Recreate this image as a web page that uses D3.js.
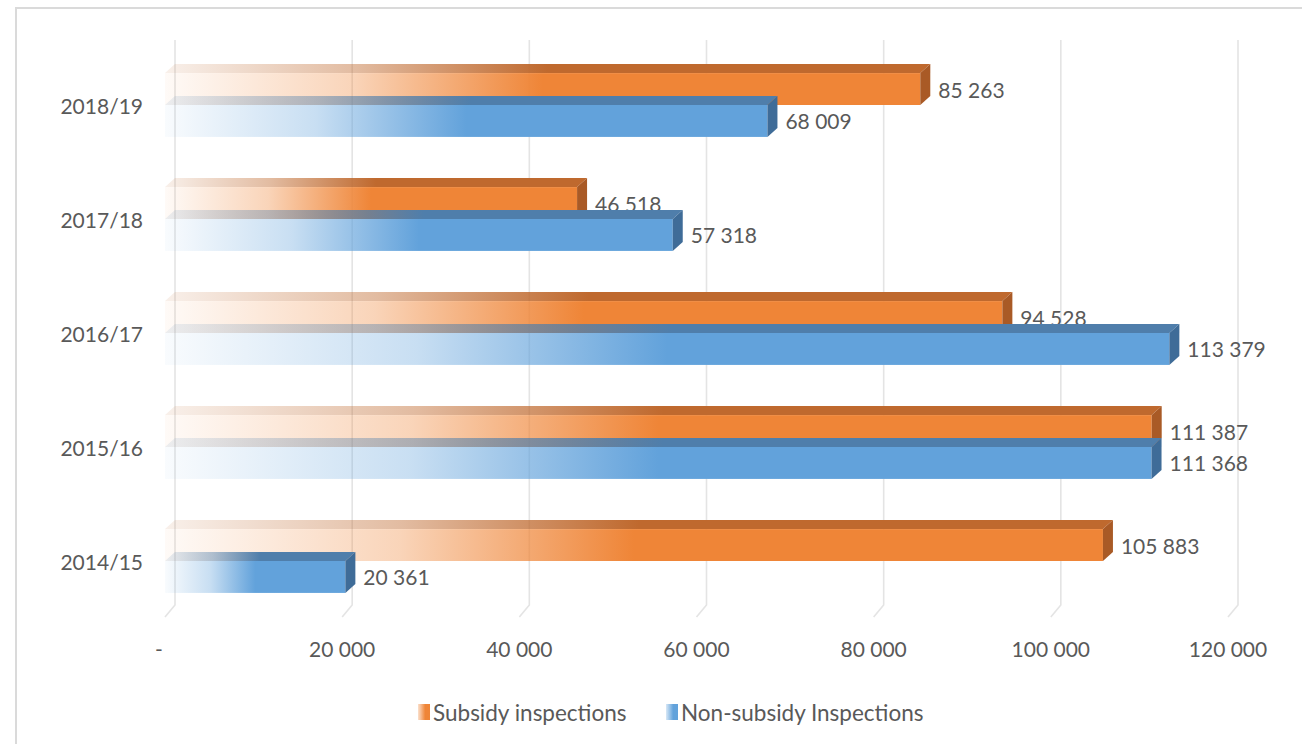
<!DOCTYPE html>
<html>
<head>
<meta charset="utf-8">
<script src="https://cdn.jsdelivr.net/npm/d3@7"></script>
<style>
  html, body { margin: 0; padding: 0; background: #fff; }
  svg { display: block; font-family: Lato, "Open Sans", sans-serif; }
</style>
</head>
<body>
<svg id="chart" width="1302" height="744"></svg>
<script>
// Inspections per financial year
const categories = ["2014/15", "2015/16", "2016/17", "2017/18", "2018/19"];
const subsidyInspections = [105883, 111387, 94528, 46518, 85263];
const nonSubsidyInspections = [20361, 111368, 113379, 57318, 68009];
const seriesNames = ["Subsidy inspections", "Non-subsidy Inspections"];
const tickValues = [0, 20000, 40000, 60000, 80000, 100000, 120000];

const series = [
  { key: "subsidy", name: seriesNames[0], values: subsidyInspections,
    front: "#EF8537", top: "#BF692E", side: "#A95A26" },
  { key: "nonsubsidy", name: seriesNames[1], values: nonSubsidyInspections,
    front: "#62A2DB", top: "#4F7EAB", side: "#3F6C98" }
];

const svg = d3.select("#chart");
const textColor = "#595959";

// 3D depth offset of the bars / back wall
const depthX = 10, depthY = -9;

const x = d3.scaleLinear().domain([0, 120000]).range([165, 1228]);
const y = d3.scaleBand()
  .domain(categories.slice().reverse())
  .range([48, 618])
  .paddingInner(0.44)
  .paddingOuter(0.22);
const ySub = d3.scaleBand()
  .domain(series.map(s => s.key))
  .range([0, y.bandwidth()]);

const locale = d3.formatLocale({ decimal: ".", thousands: " ", grouping: [3], currency: ["", ""] });
const fmt = locale.format(",d");

// Outer frame
svg.append("path")
  .attr("d", "M1302,8 H16 V744")
  .attr("fill", "none")
  .attr("stroke", "#dadada")
  .attr("stroke-width", 2);

// Gradients: bars fade in from the axis
const defs = svg.append("defs");
series.forEach(s => {
  const gf = defs.append("linearGradient").attr("id", "grad-front-" + s.key)
    .attr("x1", 0).attr("x2", 1).attr("y1", 0).attr("y2", 0);
  gf.append("stop").attr("offset", 0).attr("stop-color", s.front).attr("stop-opacity", 0.04);
  gf.append("stop").attr("offset", 0.25).attr("stop-color", s.front).attr("stop-opacity", 0.35);
  gf.append("stop").attr("offset", 0.5).attr("stop-color", s.front).attr("stop-opacity", 1);
  gf.append("stop").attr("offset", 1).attr("stop-color", s.front).attr("stop-opacity", 1);

  const gt = defs.append("linearGradient").attr("id", "grad-top-" + s.key)
    .attr("x1", 0).attr("x2", 1).attr("y1", 0).attr("y2", 0);
  gt.append("stop").attr("offset", 0).attr("stop-color", s.top).attr("stop-opacity", 0.1);
  gt.append("stop").attr("offset", 0.25).attr("stop-color", s.top).attr("stop-opacity", 0.45);
  gt.append("stop").attr("offset", 0.5).attr("stop-color", s.top).attr("stop-opacity", 1);
  gt.append("stop").attr("offset", 1).attr("stop-color", s.top).attr("stop-opacity", 1);

  const gl = defs.append("linearGradient").attr("id", "grad-legend-" + s.key)
    .attr("x1", 0).attr("x2", 1).attr("y1", 0).attr("y2", 0);
  gl.append("stop").attr("offset", 0).attr("stop-color", s.front).attr("stop-opacity", 0.25);
  gl.append("stop").attr("offset", 0.6).attr("stop-color", s.front).attr("stop-opacity", 1);
});

// Back wall gridlines with floor edge
const gridTop = 40, gridBottom = 605;
svg.append("g").selectAll("path")
  .data(tickValues)
  .join("path")
  .attr("d", v => `M${x(v) + depthX},${gridTop} V${gridBottom} L${x(v)},${gridBottom - depthY + 3}`)
  .attr("fill", "none")
  .attr("stroke", "#e4e4e4")
  .attr("stroke-width", 1.6);

// Value axis tick labels
svg.append("g").selectAll("text")
  .data(tickValues)
  .join("text")
  .attr("x", v => v === 0 ? x(v) - 6 : x(v))
  .attr("y", 648)
  .attr("text-anchor", "middle")
  .attr("dominant-baseline", "central")
  .attr("font-size", 21)
  .attr("fill", textColor)
  .text(v => v === 0 ? "-" : fmt(v));

// Category labels
svg.append("g").selectAll("text")
  .data(categories)
  .join("text")
  .attr("x", 143)
  .attr("y", c => y(c) + y.bandwidth() / 2)
  .attr("text-anchor", "end")
  .attr("dominant-baseline", "central")
  .attr("font-size", 21)
  .attr("fill", textColor)
  .text(c => c);

// 3D bars, drawn top category first so lower ones overlap correctly
const bars = svg.append("g");
categories.slice().reverse().forEach(cat => {
  const i = categories.indexOf(cat);
  series.forEach(s => {
    const v = s.values[i];
    const x0 = x(0), x1 = x(v);
    const y0 = y(cat) + ySub(s.key);
    const h = ySub.bandwidth();
    const g = bars.append("g");
    // front face
    g.append("rect")
      .attr("x", x0).attr("y", y0)
      .attr("width", x1 - x0).attr("height", h)
      .attr("fill", `url(#grad-front-${s.key})`);
    // top face
    g.append("path")
      .attr("d", `M${x0},${y0} L${x0 + depthX},${y0 + depthY} L${x1 + depthX},${y0 + depthY} L${x1},${y0} Z`)
      .attr("fill", `url(#grad-top-${s.key})`);
    // right end face
    g.append("path")
      .attr("d", `M${x1},${y0} L${x1 + depthX},${y0 + depthY} L${x1 + depthX},${y0 + h + depthY} L${x1},${y0 + h} Z`)
      .attr("fill", s.side);
    // value label
    g.append("text")
      .attr("x", x1 + depthX + 8)
      .attr("y", y0 + h / 2)
      .attr("dominant-baseline", "central")
      .attr("font-size", 21)
      .attr("fill", textColor)
      .text(fmt(v));
  });
});

// Legend
const legendItems = [
  { s: series[0], x: 418 },
  { s: series[1], x: 666 }
];
const legend = svg.append("g");
legendItems.forEach(d => {
  legend.append("rect")
    .attr("x", d.x).attr("y", 704)
    .attr("width", 12).attr("height", 16)
    .attr("fill", `url(#grad-legend-${d.s.key})`);
  legend.append("text")
    .attr("x", d.x + 15).attr("y", 712)
    .attr("dominant-baseline", "central")
    .attr("font-size", 22.5)
    .attr("fill", textColor)
    .text(d.s.name);
});
</script>
</body>
</html>
